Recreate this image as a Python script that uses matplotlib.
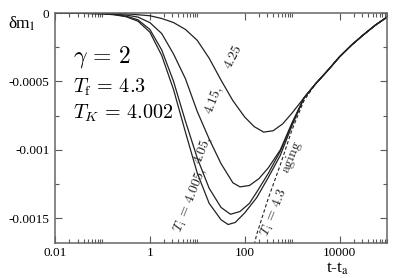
import numpy as np
import matplotlib
matplotlib.use("Agg")
import matplotlib.pyplot as plt
from matplotlib.ticker import FixedLocator, FixedFormatter, NullFormatter

plt.rcParams['font.family'] = ['Liberation Serif', 'DejaVu Serif']
plt.rcParams['mathtext.fontset'] = 'cm'

# log10(t - t_a) sample points, values of delta m_1
lt_405 = [-2, -1.5, -1, -0.75, -0.5, -0.25, 0, 0.25, 0.5, 0.75, 1.0, 1.25, 1.5, 1.65, 1.8,
          2.0, 2.25, 2.5, 2.75, 3.0, 3.25, 3.5, 3.75, 4.0, 4.25, 4.5, 4.75, 5.0]
dm_405 = [0, -0.000002, -0.000006, -0.000013, -0.000027, -0.00006, -0.00014, -0.00031,
          -0.00056, -0.00087, -0.00117, -0.00139, -0.00151, -0.001545, -0.00153,
          -0.00146, -0.00135, -0.0012, -0.00104, -0.00082, -0.00062, -0.000515,
          -0.00042, -0.00032, -0.000235, -0.00016, -0.00009, -0.00003]

lt_45 = [-2, -1.5, -1, -0.75, -0.5, -0.25, 0, 0.25, 0.5, 0.75, 1.0, 1.25, 1.5, 1.7, 1.9,
         2.1, 2.25, 2.5, 2.75, 3.0, 3.25, 3.5, 3.75, 4.0, 4.25, 4.5, 4.75, 5.0]
dm_45 = [0, -0.000002, -0.000005, -0.000011, -0.000023, -0.00005, -0.00012, -0.00027,
         -0.0005, -0.00079, -0.00106, -0.00128, -0.00142, -0.00147, -0.00145,
         -0.00139, -0.00131, -0.00117, -0.00101, -0.00081, -0.00062, -0.000515,
         -0.00042, -0.00032, -0.000235, -0.00016, -0.00009, -0.00003]

lt_415 = [-2, -1.5, -1, -0.5, -0.25, 0, 0.25, 0.5, 0.75, 1.0, 1.25, 1.5, 1.75, 1.9,
          2.1, 2.3, 2.5, 2.75, 3.0, 3.25, 3.5, 3.75, 4.0, 4.25, 4.5, 4.75, 5.0]
dm_415 = [0, -0.000002, -0.000005, -0.000015, -0.00003, -0.00007, -0.00015, -0.0003,
          -0.00048, -0.00072, -0.00092, -0.0011, -0.00124, -0.00127, -0.00126,
          -0.00121, -0.00113, -0.001, -0.0008, -0.00062, -0.000515, -0.00042,
          -0.00032, -0.000235, -0.00016, -0.00009, -0.00003]

lt_425 = [-2, -1, -0.5, 0, 0.25, 0.5, 0.75, 1.0, 1.25, 1.5, 1.75, 2.0, 2.2, 2.4, 2.6,
          2.8, 3.0, 3.25, 3.5, 3.75, 4.0, 4.25, 4.5, 4.75, 5.0]
dm_425 = [0, -0.000002, -0.000006, -0.00002, -0.00004, -0.00007, -0.00012, -0.0002,
          -0.00033, -0.00049, -0.00064, -0.00076, -0.00083, -0.00087, -0.00086,
          -0.00081, -0.00073, -0.00062, -0.000515, -0.00042, -0.00032, -0.000235,
          -0.00016, -0.00009, -0.00003]

lt_aging = [2.1, 2.25, 2.5, 2.75, 3.0, 3.25, 3.5, 3.75, 4.0, 4.25, 4.5, 4.75, 5.0]
dm_aging = [-0.00185, -0.00162, -0.00135, -0.00111, -0.00085, -0.00064, -0.000515,
            -0.00042, -0.00032, -0.000235, -0.00016, -0.00009, -0.00003]

xticks = [0.01, 1, 100, 10000]
xticklabels = ['0.01', '1', '100', '10000']
yticks = [0, -0.0005, -0.001, -0.0015]
yticklabels = ['0', '-0.0005', '-0.001', '-0.0015']
yminor = [-0.00025, -0.00075, -0.00125]

fig = plt.figure(figsize=(3.95, 2.78), dpi=100)
ax = fig.add_axes([55/395, 1 - 243/278, 332/395, 230/278])

kurven = [(lt_405, dm_405), (lt_45, dm_45), (lt_415, dm_415), (lt_425, dm_425)]
for lt, dm in kurven:
    ax.plot(10.0 ** np.array(lt), dm, color='#222222', lw=0.9)
ax.plot(10.0 ** np.array(lt_aging), dm_aging, color='#222222', lw=0.8, ls=(0, (3, 2)))

ax.set_xscale('log')
ax.set_xlim(0.01, 1e5)
ax.set_ylim(-0.00168, 0)

# minor ticks only in the first decade after each major tick (Grace style)
xminor = [m * k for m in xticks for k in range(2, 11)]
ax.xaxis.set_major_locator(FixedLocator(xticks))
ax.xaxis.set_major_formatter(FixedFormatter(xticklabels))
ax.xaxis.set_minor_locator(FixedLocator(xminor))
ax.xaxis.set_minor_formatter(NullFormatter())
ax.yaxis.set_major_locator(FixedLocator(yticks))
ax.yaxis.set_major_formatter(FixedFormatter(yticklabels))
ax.yaxis.set_minor_locator(FixedLocator(yminor))

ax.tick_params(which='both', direction='in', top=True, right=True,
               labelsize=9.5, color='0.35', width=0.8)
ax.tick_params(which='major', length=5, pad=4)
ax.tick_params(axis='x', which='major', pad=3)
ax.tick_params(which='minor', length=3)
for s in ax.spines.values():
    s.set_color('0.4')
    s.set_linewidth(1.1)

fig.text(8/395, 1 - 29/278, 'δm$_1$', fontsize=12.5, math_fontfamily='stix')
fig.text(326/395, 1 - 273/278, 't-t$_\\mathrm{a}$', fontsize=12.5, math_fontfamily='stix')

ax.text(0.055, 0.785, r'$\gamma\,=\,2$', transform=ax.transAxes, fontsize=17)
ax.text(0.055, 0.652, r'$T_{\rm f}\,=\,4.3$', transform=ax.transAxes, fontsize=14.5)
ax.text(0.055, 0.54, r'$T_K\,=\,4.002$', transform=ax.transAxes, fontsize=14.5)

lab = dict(rotation=68, ha='center', va='center', fontsize=10, color='#222222',
           rotation_mode='anchor')
ax.text(56, -0.00032, r'$4.25$', **dict(lab, rotation=62))
ax.text(22.5, -0.00064, r'$4.15,$', **lab)
ax.text(13.5, -0.00100, r'$4.05,$', **lab)
ax.text(7.0, -0.00137, r'$T_{\rm i}\,=\,4.005,$', **lab)
ax.text(430, -0.001457, r'$T_{\rm i}\,=\,4.3$', **lab)
ax.text(1000, -0.001054, r'$\mathrm{aging}$', **lab)

fig.savefig('out.png', dpi=100)
